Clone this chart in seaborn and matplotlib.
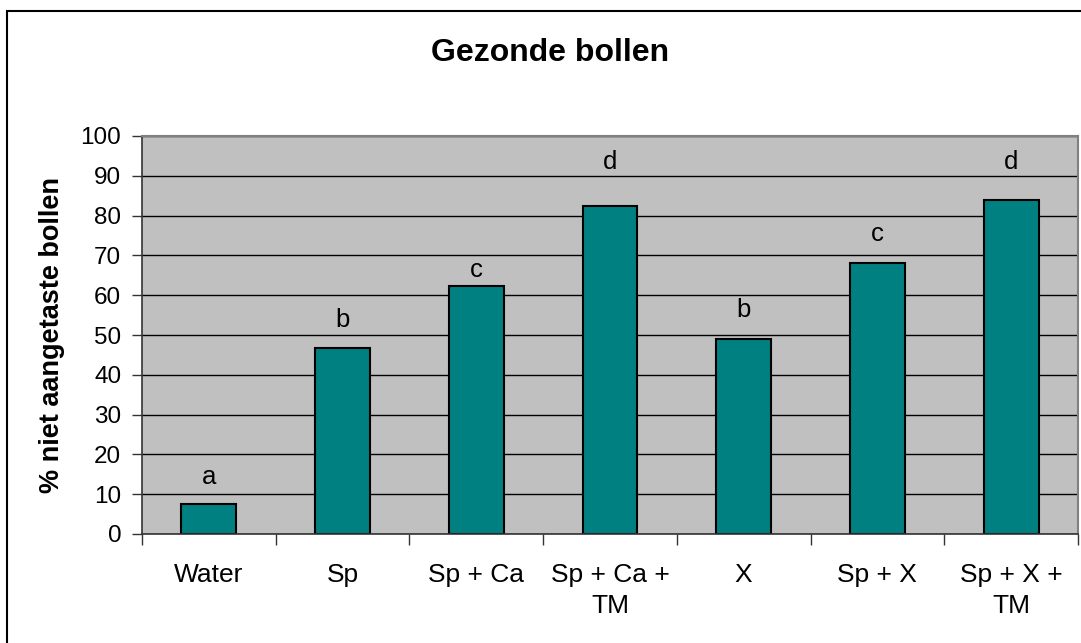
import matplotlib
matplotlib.use("Agg")
import matplotlib.pyplot as plt
import seaborn as sns
import pandas as pd
from matplotlib.patches import Rectangle

categories = ["Water", "Sp", "Sp + Ca", "Sp + Ca +\nTM", "X", "Sp + X", "Sp + X +\nTM"]
values = [7.5, 46.7, 62.3, 82.3, 49.1, 68.2, 83.8]
letters = ["a", "b", "c", "d", "b", "c", "d"]
letter_y = [14.4, 53.8, 66.3, 93.5, 56.3, 75.4, 93.5]
y_ticks = [0, 10, 20, 30, 40, 50, 60, 70, 80, 90, 100]

sns.set_theme(style="white")
plt.rcParams["font.family"] = ["Liberation Sans", "DejaVu Sans"]
plt.rcParams["text.color"] = "black"
plt.rcParams["axes.labelcolor"] = "black"
plt.rcParams["xtick.color"] = "black"
plt.rcParams["ytick.color"] = "black"

df = pd.DataFrame({"cat": categories, "val": values})

fig = plt.figure(figsize=(10.81, 6.43), dpi=100)
ax = fig.add_axes([142 / 1081, 1 - 534 / 643, (1078 - 142) / 1081, (534 - 136) / 643])
ax.set_facecolor("#C0C0C0")
ax.set_axisbelow(True)

sns.barplot(data=df, x="cat", y="val", color="#008080", width=0.41,
            edgecolor="black", linewidth=1.5, saturation=1, ax=ax)

ax.set_ylim(0, 100)
ax.set_xlim(-0.5, len(categories) - 0.5)
ax.set_yticks(y_ticks)
ax.yaxis.grid(True, color="black", linewidth=1.0)
ax.xaxis.grid(False)

# x ticks at category boundaries, labels at centers
ax.set_xticks([i - 0.5 for i in range(len(categories) + 1)])
ax.set_xticklabels([])
ax.set_xticks(list(range(len(categories))), minor=True)
ax.set_xticklabels(categories, minor=True, fontsize=19, linespacing=1.35)
ax.tick_params(axis="x", which="major", bottom=True, length=8, width=1, color="#333333")
ax.tick_params(axis="x", which="minor", bottom=True, length=0, pad=21)
ax.tick_params(axis="y", left=True, length=7, width=1, color="#333333", labelsize=17.5, pad=8)

for sp in ["top", "right"]:
    ax.spines[sp].set_color("#808080")
    ax.spines[sp].set_linewidth(1.5)
for sp in ["left", "bottom"]:
    ax.spines[sp].set_color("#333333")
    ax.spines[sp].set_linewidth(1.2)

for i, (lt, ly) in enumerate(zip(letters, letter_y)):
    ax.text(i, ly, lt, ha="center", va="center", fontsize=18.5, color="black")

ax.set_xlabel("")
ax.set_ylabel("% niet aangetaste bollen", fontsize=19.5, fontweight="bold", labelpad=11)

fig.text(550 / 1081, 1 - 53 / 643, "Gezonde bollen", ha="center", va="center",
         fontsize=23, fontweight="bold", color="black")

fig.patches.append(Rectangle((7.5 / 1081, -0.05), 1.1, 1 - 10.5 / 643 + 0.05,
                             transform=fig.transFigure, fill=False,
                             edgecolor="black", linewidth=1.5, zorder=0))

fig.savefig("out.png", dpi=100, facecolor="white")
